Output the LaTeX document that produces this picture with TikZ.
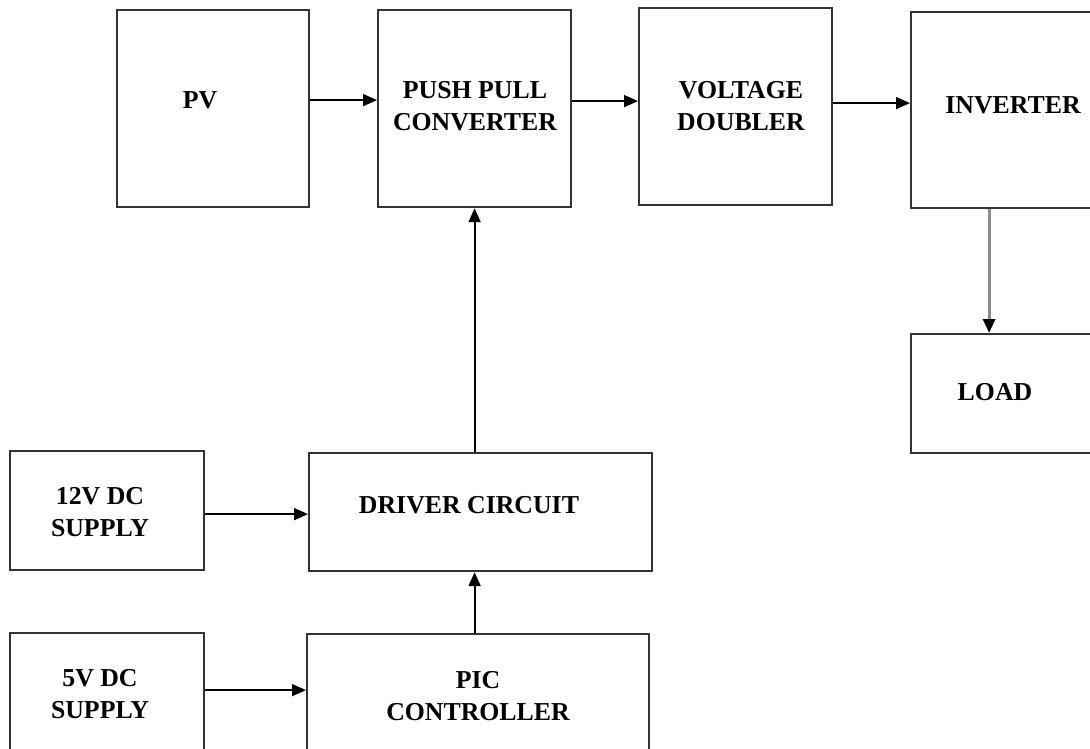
\documentclass[tikz,border=0pt]{standalone}
\usepackage{fontspec}
\setmainfont{Liberation Serif}
\usetikzlibrary{arrows.meta}
\tikzset{
  blk/.style={draw=black!80, line width=2.2pt, anchor=north west, inner sep=0pt},
  lbl/.style={font=\fontsize{25.8}{32}\selectfont\bfseries, align=center, inner sep=0pt},
  arr/.style={-{Triangle[length=14pt,width=12pt]}, line width=1.8pt},
  arrgray/.style={-{Triangle[length=14pt,width=12pt,color=black]}, draw=black!45, line width=3.2pt},
}
\begin{document}
\begin{tikzpicture}[x=1pt,y=-1pt]
\useasboundingbox (0,0) rectangle (1090,748);
\clip (0,0) rectangle (1090,748);
% top row
\node[blk, minimum width=192pt, minimum height=197pt] (pv) at (116,9) {};
\node[blk, minimum width=193pt, minimum height=197pt] (pp) at (377,9) {};
\node[blk, minimum width=193pt, minimum height=197pt] (vd) at (638,7) {};
\node[blk, minimum width=206pt, minimum height=196pt] (inv) at (910,11) {};
\node[blk, minimum width=200pt, minimum height=119pt] (load) at (910,333) {};
% bottom left
\node[blk, minimum width=194pt, minimum height=119pt] (s12) at (9,450) {};
\node[blk, minimum width=343pt, minimum height=118pt] (drv) at (308,452) {};
\node[blk, minimum width=194pt, minimum height=128pt] (s5) at (9,632) {};
\node[blk, minimum width=342pt, minimum height=127pt] (pic) at (306,633) {};
% texts
\node[lbl] (pvtxt) at (200,100) {PV};
\node[lbl] (pptxt) at (475,106) {PUSH PULL\\CONVERTER};
\node[lbl] (vdtxt) at (741,106) {VOLTAGE\\DOUBLER};
\node[lbl] (invtxt) at (1013,105) {INVERTER};
\node[lbl] (loadtxt) at (995,392) {LOAD};
\node[lbl] (s12txt) at (100,512) {12V DC\\SUPPLY};
\node[lbl] (drvtxt) at (469,505) {DRIVER CIRCUIT};
\node[lbl] (s5txt) at (100,694) {5V DC\\SUPPLY};
\node[lbl] (pictxt) at (478,696) {PIC\\CONTROLLER};
% arrows
\draw[arr] ([yshift=8.5pt]pv.east) -- ([yshift=8.5pt]pv.east -| pp.west);
\draw[arr] ([yshift=7.5pt]pp.east) -- ([yshift=7.5pt]pp.east -| vd.west);
\draw[arr] ([yshift=3.5pt]vd.east) -- ([yshift=3.5pt]vd.east -| inv.west);
\draw[arrgray] ([xshift=-25pt]inv.south) -- ([xshift=-25pt]inv.south |- load.north);
\draw[arr] (drv.north -| pp.south) -- (pp.south);
\draw[arr] ([yshift=-3.5pt]s12.east) -- ([yshift=-3.5pt]s12.east -| drv.west);
\draw[arr] (pic.north -| pp.south) -- (drv.south -| pp.south);
\draw[arr] ([yshift=7pt]s5.east) -- ([yshift=7pt]s5.east -| pic.west);
\end{tikzpicture}
\end{document}
